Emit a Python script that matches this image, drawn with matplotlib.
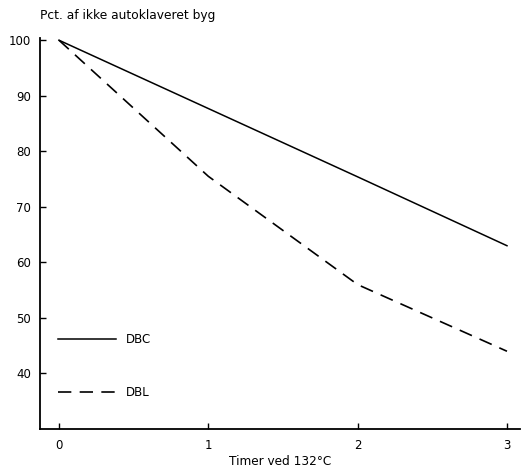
import matplotlib
matplotlib.use("Agg")
import matplotlib.pyplot as plt

plt.rcParams['font.family'] = ['DejaVu Sans']

timer = [0, 1, 2, 3]
dbc = [100, 87.7, 75.4, 63]
dbl = [100, 75.5, 56, 44]

xticks = [0, 1, 2, 3]
yticks = [40, 50, 60, 70, 80, 90, 100]

fig = plt.figure(figsize=(5.24, 4.70), dpi=100)
ax = fig.add_axes([0.0763, 0.0872, 0.916, 0.832])

ax.plot(timer, dbc, color='black', linewidth=1.1, label='DBC')
ax.plot(timer, dbl, color='black', linewidth=1.2, dashes=(8, 5), label='DBL')

ax.set_xlim(-0.127, 3.087)
ax.set_ylim(30, 100.4)
ax.set_xticks(xticks)
ax.set_yticks(yticks)
ax.tick_params(direction='in', length=4, width=1, labelsize=8.5, colors='black')
ax.tick_params(axis='y', pad=6.5)
ax.tick_params(axis='x', pad=7)

for s in ['top', 'right']:
    ax.spines[s].set_visible(False)
for s in ['left', 'bottom']:
    ax.spines[s].set_linewidth(1.3)

ax.set_xlabel('Timer ved 132°C', fontsize=8.7, labelpad=2.5)
fig.text(0.076, 0.968, 'Pct. af ikke autoklaveret byg', fontsize=8.8, ha='left', va='center')

ax.legend(loc='upper left', bbox_to_anchor=(0.0375, 0.246), frameon=False,
          fontsize=8.5, handlelength=4.9, labelspacing=3.4, handletextpad=0.85,
          borderpad=0, borderaxespad=0)

fig.savefig('out.png', dpi=100)
